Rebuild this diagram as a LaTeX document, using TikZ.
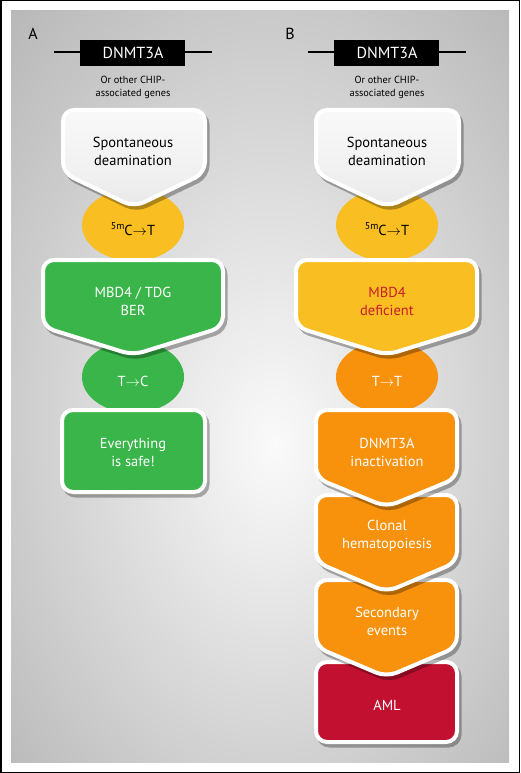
\documentclass[tikz,border=0pt]{standalone}
\usepackage{fontspec}
\setmainfont{PT Sans}
\usetikzlibrary{shadows}
\definecolor{bglight}{RGB}{250,250,250}
\definecolor{bgdark}{RGB}{178,178,178}
\definecolor{cyel}{RGB}{249,190,34}
\definecolor{cgreen}{RGB}{57,181,74}
\definecolor{corange}{RGB}{248,145,12}
\definecolor{cred}{RGB}{194,17,48}
\definecolor{ctxtred}{RGB}{200,30,45}
\pgfdeclareradialshading{bgshade}{\pgfpoint{1.5bp}{-4bp}}{color(0bp)=(bglight); color(40bp)=(bgdark); color(55bp)=(bgdark)}
\pgfdeclareverticalshading{whiteshade}{100bp}{color(0bp)=(black!14); color(40bp)=(black!6); color(100bp)=(white)}
\newcommand\boxpath[5]{({(#1+#2)/2},#3) -- (#2,#3) -- (#2,#4) -- ({(#1+#2)/2},#5) -- (#1,#4) -- (#1,#3) -- cycle}
\newcommand\pentshape[6]{%
 \begin{scope}[transparency group, opacity=.3]
  \path[fill=black, draw=black, line width=4pt, rounded corners=11pt, xshift=2.5pt, yshift=-3.5pt] \boxpath{#1}{#2}{#3}{#4}{#5};
 \end{scope}
 \path[#6, draw=white, line width=4pt, rounded corners=11pt] \boxpath{#1}{#2}{#3}{#4}{#5};
}
\newcommand\rectshape[5]{%
 \begin{scope}[transparency group, opacity=.3]
  \path[fill=black, draw=black, line width=4pt, rounded corners=11pt, xshift=2.5pt, yshift=-3.5pt] (#1,#3) rectangle (#2,#4);
 \end{scope}
 \path[#5, draw=white, line width=4pt, rounded corners=11pt] (#1,#3) rectangle (#2,#4);
}
\newcommand\fivem{\raisebox{0.45em}{\fontsize{10}{10}\selectfont 5m}}
\tikzset{
  lbl/.style={font=\fontsize{14.5}{18}\selectfont, align=center, inner sep=0pt},
  wlbl/.style={lbl, text=white},
  small/.style={font=\fontsize{10.3}{13}\selectfont, align=center, inner sep=0pt},
}
\begin{document}
\begin{tikzpicture}[x=1pt,y=-1pt]
\useasboundingbox (0,0) rectangle (520,773);
% frame
\fill[white] (0,0) rectangle (520,773);
\draw[black, line width=1.5pt] (0.75,0.75) rectangle (519.25,772.25);
\shade[shading=bgshade] (11,11) rectangle (509,762);

% panel labels
\node[font=\fontsize{16}{18}\selectfont, inner sep=0pt] (la) at (33,34) {A};
\node[font=\fontsize{16}{18}\selectfont, inner sep=0pt] (lb) at (290,34) {B};

% genes
\foreach \cx/\nm in {133/ga, 387/gb}{
  \draw[line width=2pt] (\cx-79,52) -- (\cx+79,52);
  \fill[black] (\cx-53,40) rectangle (\cx+52,66);
  \node[font=\fontsize{16}{18}\selectfont, inner sep=0pt, text=white] (\nm) at (\cx,53) {DNMT3A};
  \node[small] (\nm o) at (\cx,87) {Or other CHIP-\\associated genes};
}

% ellipses
\fill[cyel] (133,225) ellipse [x radius=51, y radius=36];
\fill[cgreen] (133,377) ellipse [x radius=51, y radius=36];
\fill[cyel] (387,225) ellipse [x radius=51, y radius=36];
\fill[corange] (387,377) ellipse [x radius=51, y radius=36];

% panel A boxes (bottom-up)
\rectshape{62}{205}{410}{492}{fill=cgreen}
\pentshape{43}{223}{260}{327}{355}{fill=cgreen}
\pentshape{63}{205}{110}{173}{207}{shading=whiteshade}

% panel B boxes (bottom-up)
\rectshape{316}{457}{662}{742}{fill=cred}
\pentshape{316}{457}{580}{647}{677}{fill=corange}
\pentshape{316}{457}{495}{562}{592}{fill=corange}
\pentshape{316}{457}{410}{478}{507}{fill=corange}
\pentshape{296}{477}{260}{327}{355}{fill=cyel}
\pentshape{316}{459}{110}{173}{207}{shading=whiteshade}

% texts A
\node[lbl] (sa) at (133,151) {Spontaneous\\deamination};
\node[lbl] (ea) at (133,229) {\fivem C$\rightarrow$T};
\node[wlbl] (ma) at (133,301) {MBD4 / TDG\\BER};
\node[wlbl] (ta) at (133,381) {T$\rightarrow$C};
\node[wlbl] (sfa) at (133,452) {Everything\\is safe!};

% texts B
\node[lbl] (sb) at (387,151) {Spontaneous\\deamination};
\node[lbl] (eb) at (387,229) {\fivem C$\rightarrow$T};
\node[lbl, text=ctxtred] (mb) at (387,301) {MBD4\\deficient};
\node[wlbl] (tb) at (387,381) {T$\rightarrow$T};
\node[wlbl] (db) at (387,452) {DNMT3A\\inactivation};
\node[wlbl] (cb) at (387,536) {Clonal\\hematopoiesis};
\node[wlbl] (secb) at (387,621) {Secondary\\events};
\node[wlbl] (amlb) at (387,705) {AML};
\end{tikzpicture}
\end{document}
